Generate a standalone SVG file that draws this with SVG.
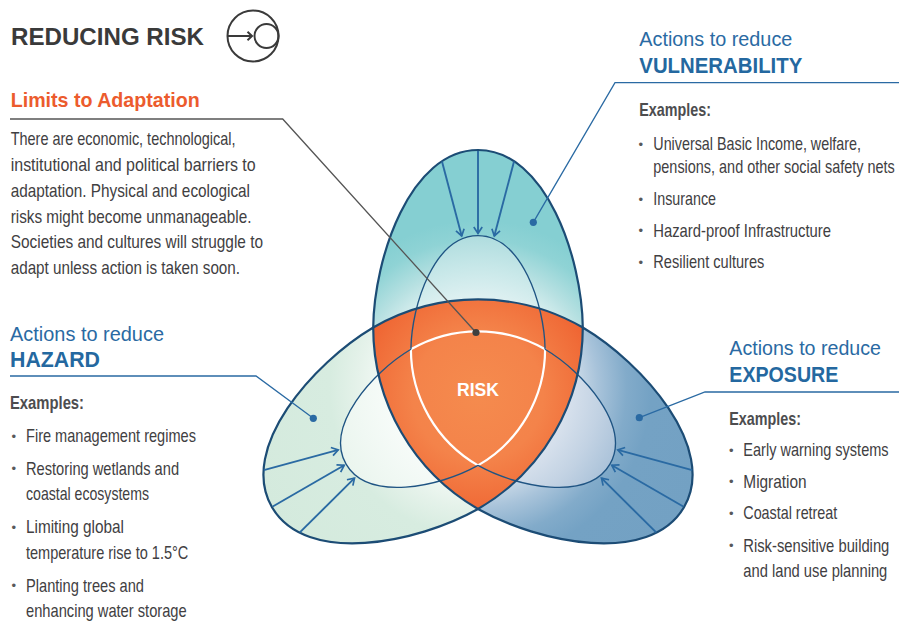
<svg xmlns="http://www.w3.org/2000/svg" xmlns:xlink="http://www.w3.org/1999/xlink" width="899" height="621" viewBox="0 0 899 621">
<style>
.t{font-family:"Liberation Sans",Arial,sans-serif}
.n{font-family:"Liberation Sans",Arial,sans-serif;font-size:18.5px;fill:#414042}
.ex{font-family:"Liberation Sans",Arial,sans-serif;font-size:18.5px;font-weight:bold;fill:#4D4D4F}
.act{font-family:"Liberation Sans",Arial,sans-serif;font-size:20px;fill:#2A6AA3}
.big{font-family:"Liberation Sans",Arial,sans-serif;font-size:22px;font-weight:bold;fill:#2468A0}
.bul{font-family:"Liberation Sans",Arial,sans-serif;font-size:13px;fill:#58595B}
.ostroke{fill:none;stroke:#1C4C75;stroke-width:2.2;stroke-linejoin:round}
.istroke{fill:none;stroke:#1F5483;stroke-width:2.1}
.arr{fill:none;stroke:#2A6AA3;stroke-width:1.9;marker-end:url(#chev)}
.lead{fill:none;stroke:#2A6AA3;stroke-width:1.3}
.dot{fill:#2A6AA3}
</style>
<defs>
<path id="lobeOut" d="M-104.8,-60.5 C-104,-130 -68,-238 0,-238 C68,-238 104,-130 104.8,-60.5 A209.6,209.6 0 0 0 -104.8,-60.5 Z"/>
<path id="lobeCurve" d="M-104.8,-60.5 C-104,-130 -68,-238 0,-238 C68,-238 104,-130 104.8,-60.5"/>
<g id="arrowsTop">
<line class="arr" x1="-36" y1="-226.5" x2="-16.3" y2="-152"/>
<line class="arr" x1="0" y1="-237" x2="0" y2="-154.5"/>
<line class="arr" x1="36" y1="-226.5" x2="16.3" y2="-152"/>
</g>
<marker id="chev" markerUnits="userSpaceOnUse" markerWidth="12" markerHeight="12" viewBox="-8 -6 12 12" refX="0" refY="0" orient="auto" overflow="visible">
<path d="M-6.5,-4.2 L0,0 L-6.5,4.2" fill="none" stroke="#2A6AA3" stroke-width="1.7"/>
</marker>
<clipPath id="outsideRisk" clipPathUnits="userSpaceOnUse">
<path clip-rule="evenodd" d="M0,0H899V621H0Z M373.2,327.5 A209.6,209.6 0 0 1 582.8,327.5 A209.6,209.6 0 0 1 478,509 A209.6,209.6 0 0 1 373.2,327.5 Z"/>
</clipPath>
<radialGradient id="gTop" gradientUnits="userSpaceOnUse" cx="0" cy="0" r="240">
<stop offset="0.38" stop-color="#E3F3F3"/><stop offset="0.5" stop-color="#B8E1E2"/><stop offset="0.62" stop-color="#8FD3D5"/><stop offset="0.7" stop-color="#85CFD2"/><stop offset="1" stop-color="#85CFD2"/>
</radialGradient>
<radialGradient id="gTopIn" gradientUnits="userSpaceOnUse" cx="0" cy="0" r="240">
<stop offset="0.6" stop-color="#DDF0F1"/><stop offset="0.8" stop-color="#C6E7E8"/><stop offset="1" stop-color="#AEDCDE"/>
</radialGradient>
<radialGradient id="gRight" gradientUnits="userSpaceOnUse" cx="0" cy="0" r="240">
<stop offset="0.38" stop-color="#D5E1EC"/><stop offset="0.5" stop-color="#A8C3DA"/><stop offset="0.62" stop-color="#82ABCA"/><stop offset="0.72" stop-color="#74A2C4"/><stop offset="1" stop-color="#73A1C3"/>
</radialGradient>
<radialGradient id="gRightIn" gradientUnits="userSpaceOnUse" cx="0" cy="0" r="240">
<stop offset="0.6" stop-color="#D6E0EC"/><stop offset="0.8" stop-color="#C2D2E3"/><stop offset="1" stop-color="#AAC2D9"/>
</radialGradient>
<radialGradient id="gLeft" gradientUnits="userSpaceOnUse" cx="0" cy="0" r="240">
<stop offset="0.38" stop-color="#F4FAF6"/><stop offset="0.5" stop-color="#E5F2EA"/><stop offset="0.62" stop-color="#D7ECE0"/><stop offset="1" stop-color="#D4EADD"/>
</radialGradient>
<radialGradient id="gLeftIn" gradientUnits="userSpaceOnUse" cx="0" cy="0" r="240">
<stop offset="0.6" stop-color="#F6FBF8"/><stop offset="1" stop-color="#EAF5EE"/>
</radialGradient>
<radialGradient id="gRisk" gradientUnits="userSpaceOnUse" cx="478" cy="395" r="130">
<stop offset="0" stop-color="#F58B4E"/><stop offset="0.5" stop-color="#F4834A"/><stop offset="0.85" stop-color="#F06C38"/><stop offset="1" stop-color="#EE602F"/>
</radialGradient>
</defs>
<rect width="899" height="621" fill="#FFFFFF"/>

<g id="title">
<text class="t" x="11" y="45" font-size="24.5" font-weight="bold" fill="#3A3A3A" textLength="193" lengthAdjust="spacingAndGlyphs">REDUCING RISK</text>
<g fill="none" stroke="#3A3A3A" stroke-width="2">
<circle cx="253" cy="36" r="25.5"/>
<circle cx="266.5" cy="36" r="12"/>
<path d="M228,36 H252"/>
<path d="M247.5,31.8 L252,36 L247.5,40.2"/>
</g>
</g>

<g id="limits">
<text class="t" x="10.7" y="106.5" font-size="21" font-weight="bold" fill="#EC5B2D" textLength="189" lengthAdjust="spacingAndGlyphs">Limits to Adaptation</text>
<text class="n" transform="matrix(0.78 0 0 1 10.7 145)" textLength="288.1" lengthAdjust="spacingAndGlyphs">There are economic, technological,</text>
<text class="n" transform="matrix(0.78 0 0 1 10.7 171)" textLength="314.1" lengthAdjust="spacingAndGlyphs">institutional and political barriers to</text>
<text class="n" transform="matrix(0.78 0 0 1 10.7 196.7)" textLength="306.8" lengthAdjust="spacingAndGlyphs">adaptation. Physical and ecological</text>
<text class="n" transform="matrix(0.78 0 0 1 10.7 222.7)" textLength="308.6" lengthAdjust="spacingAndGlyphs">risks might become unmanageable.</text>
<text class="n" transform="matrix(0.78 0 0 1 10.7 248.3)" textLength="323.5" lengthAdjust="spacingAndGlyphs">Societies and cultures will struggle to</text>
<text class="n" transform="matrix(0.78 0 0 1 10.7 274)" textLength="294" lengthAdjust="spacingAndGlyphs">adapt unless action is taken soon.</text>
</g>

<g id="risk">
<path fill="url(#gRisk)" d="M373.2,327.5 A209.6,209.6 0 0 1 582.8,327.5 A209.6,209.6 0 0 1 478,509 A209.6,209.6 0 0 1 373.2,327.5 Z"/>
<path fill="none" stroke="#FFFFFF" stroke-width="2.2" stroke-linejoin="miter" d="M410.9,349.3 A134.1,134.1 0 0 1 545.1,349.3 A134.1,134.1 0 0 1 478,465.4 A134.1,134.1 0 0 1 410.9,349.3 Z"/>
<text class="t" x="478" y="396" text-anchor="middle" font-size="19" font-weight="bold" fill="#FFFFFF" textLength="42" lengthAdjust="spacingAndGlyphs">RISK</text>
</g>

<g id="vulnerability">
<use xlink:href="#lobeOut" href="#lobeOut" transform="translate(478,388)" fill="url(#gTop)"/>
<g clip-path="url(#outsideRisk)"><use xlink:href="#lobeOut" href="#lobeOut" transform="translate(478,388) scale(0.64)" fill="url(#gTopIn)"/></g>
<use xlink:href="#lobeCurve" href="#lobeCurve" class="istroke" transform="translate(478,388) scale(0.64)"/>
<use xlink:href="#lobeOut" href="#lobeOut" class="ostroke" transform="translate(478,388)"/>
<text class="act" x="639.3" y="46" textLength="153" lengthAdjust="spacingAndGlyphs">Actions to reduce</text>
<text class="big" x="639.3" y="72.7" textLength="163" lengthAdjust="spacingAndGlyphs">VULNERABILITY</text>
<text class="ex" transform="matrix(0.78 0 0 1 639.3 116)" textLength="91.9" lengthAdjust="spacingAndGlyphs">Examples:</text>
<text class="bul" x="638.5" y="148.5">•</text>
<text class="n" transform="matrix(0.78 0 0 1 653.3 150)" textLength="266.3" lengthAdjust="spacingAndGlyphs">Universal Basic Income, welfare,</text>
<text class="n" transform="matrix(0.78 0 0 1 653.3 173.3)" textLength="309.6" lengthAdjust="spacingAndGlyphs">pensions, and other social safety nets</text>
<text class="bul" x="638.5" y="203.5">•</text>
<text class="n" transform="matrix(0.78 0 0 1 653.3 205)" textLength="80.4" lengthAdjust="spacingAndGlyphs">Insurance</text>
<text class="bul" x="638.5" y="235.2">•</text>
<text class="n" transform="matrix(0.78 0 0 1 653.3 236.7)" textLength="227.8" lengthAdjust="spacingAndGlyphs">Hazard-proof Infrastructure</text>
<text class="bul" x="638.5" y="266.8">•</text>
<text class="n" transform="matrix(0.78 0 0 1 653.3 268.3)" textLength="142.3" lengthAdjust="spacingAndGlyphs">Resilient cultures</text>
</g>

<g id="hazard">
<use xlink:href="#lobeOut" href="#lobeOut" transform="translate(478,388) rotate(240)" fill="url(#gLeft)"/>
<g clip-path="url(#outsideRisk)"><use xlink:href="#lobeOut" href="#lobeOut" transform="translate(478,388) rotate(240) scale(0.64)" fill="url(#gLeftIn)"/></g>
<use xlink:href="#lobeCurve" href="#lobeCurve" class="istroke" transform="translate(478,388) rotate(240) scale(0.64)"/>
<use xlink:href="#lobeOut" href="#lobeOut" class="ostroke" transform="translate(478,388) rotate(240)"/>
<text class="act" x="10" y="340.7" textLength="154" lengthAdjust="spacingAndGlyphs">Actions to reduce</text>
<text class="big" x="10" y="367.3" textLength="90" lengthAdjust="spacingAndGlyphs">HAZARD</text>
<text class="ex" transform="matrix(0.78 0 0 1 10 409)" textLength="94.9" lengthAdjust="spacingAndGlyphs">Examples:</text>
<text class="bul" x="11.5" y="440.5">•</text>
<text class="n" transform="matrix(0.78 0 0 1 26 442)" textLength="217.9" lengthAdjust="spacingAndGlyphs">Fire management regimes</text>
<text class="bul" x="11.5" y="473">•</text>
<text class="n" transform="matrix(0.78 0 0 1 26 474.5)" textLength="196.2" lengthAdjust="spacingAndGlyphs">Restoring wetlands and</text>
<text class="n" transform="matrix(0.78 0 0 1 26 500)" textLength="157.7" lengthAdjust="spacingAndGlyphs">coastal ecosystems</text>
<text class="bul" x="11.5" y="531.5">•</text>
<text class="n" transform="matrix(0.78 0 0 1 26 533)" textLength="125.6" lengthAdjust="spacingAndGlyphs">Limiting global</text>
<text class="n" transform="matrix(0.78 0 0 1 26 559)" textLength="208.1" lengthAdjust="spacingAndGlyphs">temperature rise to 1.5°C</text>
<text class="bul" x="11.5" y="590">•</text>
<text class="n" transform="matrix(0.78 0 0 1 26 591.5)" textLength="151.3" lengthAdjust="spacingAndGlyphs">Planting trees and</text>
<text class="n" transform="matrix(0.78 0 0 1 26 617)" textLength="206" lengthAdjust="spacingAndGlyphs">enhancing water storage</text>
</g>

<g id="exposure">
<use xlink:href="#lobeOut" href="#lobeOut" transform="translate(478,388) rotate(120)" fill="url(#gRight)"/>
<g clip-path="url(#outsideRisk)"><use xlink:href="#lobeOut" href="#lobeOut" transform="translate(478,388) rotate(120) scale(0.64)" fill="url(#gRightIn)"/></g>
<use xlink:href="#lobeCurve" href="#lobeCurve" class="istroke" transform="translate(478,388) rotate(120) scale(0.64)"/>
<use xlink:href="#lobeOut" href="#lobeOut" class="ostroke" transform="translate(478,388) rotate(120)"/>
<text class="act" x="729.3" y="355" textLength="151.7" lengthAdjust="spacingAndGlyphs">Actions to reduce</text>
<text class="big" x="729.3" y="381.7" textLength="109" lengthAdjust="spacingAndGlyphs">EXPOSURE</text>
<text class="ex" transform="matrix(0.78 0 0 1 729.3 425)" textLength="91.9" lengthAdjust="spacingAndGlyphs">Examples:</text>
<text class="bul" x="729" y="454.5">•</text>
<text class="n" transform="matrix(0.78 0 0 1 743.3 456)" textLength="186.3" lengthAdjust="spacingAndGlyphs">Early warning systems</text>
<text class="bul" x="729" y="486.2">•</text>
<text class="n" transform="matrix(0.78 0 0 1 743.3 487.7)" textLength="81.2" lengthAdjust="spacingAndGlyphs">Migration</text>
<text class="bul" x="729" y="517.8">•</text>
<text class="n" transform="matrix(0.78 0 0 1 743.3 519.3)" textLength="120.5" lengthAdjust="spacingAndGlyphs">Coastal retreat</text>
<text class="bul" x="729" y="550.2">•</text>
<text class="n" transform="matrix(0.78 0 0 1 743.3 551.7)" textLength="187.2" lengthAdjust="spacingAndGlyphs">Risk-sensitive building</text>
<text class="n" transform="matrix(0.78 0 0 1 743.3 576.7)" textLength="184.6" lengthAdjust="spacingAndGlyphs">and land use planning</text>
</g>

<g id="connectors">
<use xlink:href="#arrowsTop" href="#arrowsTop" transform="translate(478,388)"/>
<use xlink:href="#arrowsTop" href="#arrowsTop" transform="translate(478,388) rotate(240)"/>
<use xlink:href="#arrowsTop" href="#arrowsTop" transform="translate(478,388) rotate(120)"/>
<path d="M10,119 H282.7 L476,332.5" fill="none" stroke="#555555" stroke-width="1.3"/>
<circle cx="476" cy="332.5" r="3.6" fill="#3F3F3F"/>
<path class="lead" d="M899,82.7 H615 L533.3,222.3"/>
<circle class="dot" cx="533.3" cy="222.3" r="3.6"/>
<path class="lead" d="M10,376 H256 L313.3,418.3"/>
<circle class="dot" cx="313.3" cy="418.3" r="3.6"/>
<path class="lead" d="M899,392 H705 L639.3,417.7"/>
<circle class="dot" cx="639.3" cy="417.7" r="3.6"/>
</g>
</svg>
